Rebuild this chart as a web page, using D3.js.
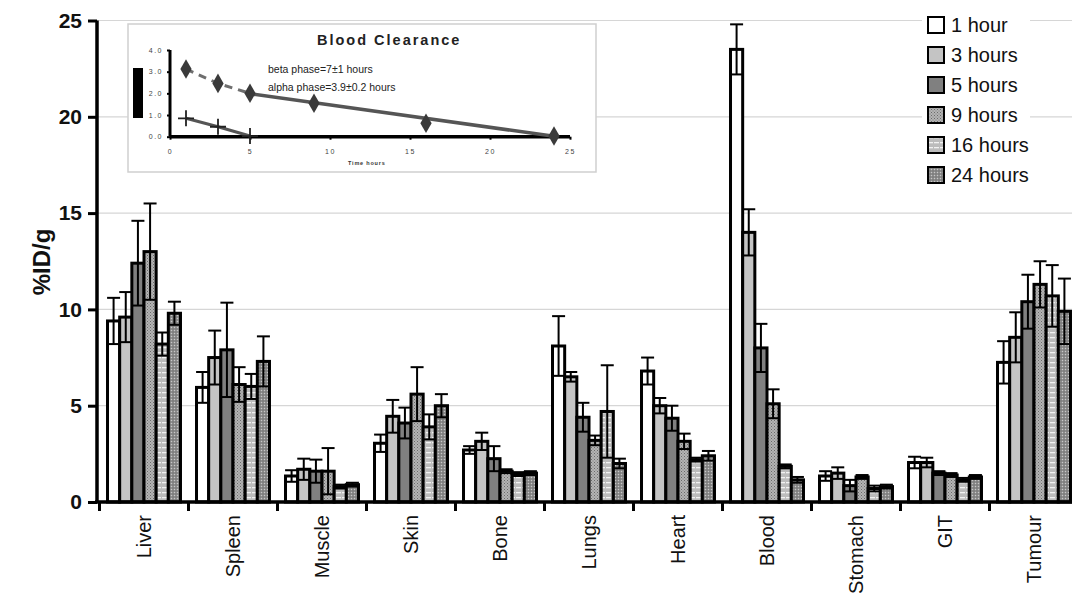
<!DOCTYPE html>
<html><head><meta charset="utf-8">
<script src="https://cdn.jsdelivr.net/npm/d3@7"></script>
<style>html,body{margin:0;padding:0;background:#fff;}svg{display:block;font-family:Arial,"Liberation Sans",sans-serif;}</style>
</head><body>
<svg id="chart" width="1072" height="613"></svg>
<script>
// ---------- data ----------
const categories = ["Liver","Spleen","Muscle","Skin","Bone","Lungs","Heart","Blood","Stomach","GIT","Tumour"];
const seriesNames = ["1 hour","3 hours","5 hours","9 hours","16 hours","24 hours"];
const h1  = [9.4, 5.95, 1.35, 3.05, 2.7, 8.1, 6.8, 23.5, 1.35, 2.05, 7.25];
const h3  = [9.6, 7.5, 1.7, 4.45, 3.15, 6.5, 5.0, 14.0, 1.5, 2.05, 8.55];
const h5  = [12.4, 7.9, 1.6, 4.1, 2.25, 4.4, 4.35, 8.0, 0.85, 1.5, 10.4];
const h9  = [13.0, 6.1, 1.6, 5.6, 1.6, 3.2, 3.15, 5.1, 1.3, 1.4, 11.3];
const h16 = [8.2, 6.0, 0.8, 3.9, 1.45, 4.7, 2.2, 1.85, 0.7, 1.15, 10.7];
const h24 = [9.8, 7.3, 0.9, 5.0, 1.5, 2.0, 2.4, 1.15, 0.8, 1.3, 9.9];
const e1  = [1.2, 0.8, 0.3, 0.45, 0.2, 1.55, 0.7, 1.3, 0.25, 0.3, 1.1];
const e3  = [1.3, 1.4, 0.55, 0.85, 0.45, 0.25, 0.4, 1.2, 0.3, 0.25, 1.3];
const e5  = [2.2, 2.45, 0.6, 0.8, 0.65, 0.75, 0.65, 1.25, 0.3, 0.1, 1.4];
const e9  = [2.5, 0.9, 1.2, 1.4, 0.1, 0.25, 0.4, 0.75, 0.1, 0.1, 1.2];
const e16 = [0.6, 0.65, 0.1, 0.65, 0.1, 2.4, 0.1, 0.1, 0.15, 0.1, 1.6];
const e24 = [0.6, 1.3, 0.1, 0.6, 0.1, 0.25, 0.25, 0.15, 0.1, 0.1, 1.7];
const yTicks = [0, 5, 10, 15, 20, 25];

// inset data
const insetTitle = "Blood Clearance";
const clearTime  = [1, 3, 5, 9, 16, 24];
const clearValue = [3.12, 2.46, 2.0, 1.54, 0.62, 0.03];
const alphaTime  = [1, 3, 5];
const alphaValue = [0.85, 0.46, 0.03];
const betaFitTime  = [5, 24];
const betaFitValue = [1.98, 0.02];
const insetXTicks = [0, 5, 10, 15, 20, 25];
const insetYTicks = [0, 1, 2, 3, 4];
const betaText  = "beta phase=7\u00B11 hours";
const alphaText = "alpha phase=3.9\u00B10.2 hours";

// ---------- build ----------
const values = [h1, h3, h5, h9, h16, h24];
const errors = [e1, e3, e5, e9, e16, e24];
const fills = ["#ffffff", "#c4c4c4", "#808080", "url(#p9)", "url(#p16)", "url(#p24)"];

const svg = d3.select("#chart");
const defs = svg.append("defs");
let p = defs.append("pattern").attr("id","p9").attr("patternUnits","userSpaceOnUse").attr("width",3).attr("height",3);
p.append("rect").attr("width",3).attr("height",3).attr("fill","#b4b4b4");
p.append("rect").attr("x",0).attr("y",0).attr("width",1).attr("height",1).attr("fill","#6a6a6a");
p.append("rect").attr("x",1.5).attr("y",1.5).attr("width",1).attr("height",1).attr("fill","#7a7a7a");
p = defs.append("pattern").attr("id","p16").attr("patternUnits","userSpaceOnUse").attr("width",6).attr("height",5);
p.append("rect").attr("width",6).attr("height",5).attr("fill","#bcbcbc");
p.append("rect").attr("x",0).attr("y",2).attr("width",5).attr("height",1.3).attr("fill","#f2f2f2");
p = defs.append("pattern").attr("id","p24").attr("patternUnits","userSpaceOnUse").attr("width",3).attr("height",3);
p.append("rect").attr("width",3).attr("height",3).attr("fill","#8e8e8e");
p.append("rect").attr("x",0).attr("y",0).attr("width",1).attr("height",1).attr("fill","#c8c8c8");
p.append("rect").attr("x",1.5).attr("y",1.5).attr("width",1).attr("height",1).attr("fill","#555");

const y = d3.scaleLinear().domain([0, 25]).range([502, 20.5]);
const x0 = d3.scaleBand().domain(categories).range([99.5, 1078.5]).paddingInner(0.18).paddingOuter(0.09);
const x1 = d3.scaleBand().domain(seriesNames).range([0, x0.bandwidth()]);

// gridlines
svg.append("g").selectAll("line").data(yTicks.filter(d => d > 0)).join("line")
  .attr("x1", 97).attr("x2", 1072).attr("y1", d => y(d)).attr("y2", d => y(d))
  .attr("stroke", "#d6d6d6").attr("stroke-width", 1.2);

// bars
const gBars = svg.append("g");
seriesNames.forEach((s, si) => {
  gBars.append("g").selectAll("rect").data(categories).join("rect")
    .attr("x", c => x0(c) + x1(s))
    .attr("y", (c, i) => y(values[si][i]))
    .attr("width", x1.bandwidth())
    .attr("height", (c, i) => y(0) - y(values[si][i]))
    .attr("fill", fills[si]).attr("stroke", "#000").attr("stroke-width", 3);
});
// error bars
const gErr = svg.append("g").attr("stroke", "#000").attr("stroke-width", 2);
seriesNames.forEach((s, si) => {
  categories.forEach((c, i) => {
    const cx = x0(c) + x1(s) + x1.bandwidth() / 2;
    const v = values[si][i], e = errors[si][i];
    const top = y(v + e), bot = y(Math.max(0, v - e));
    gErr.append("line").attr("x1", cx).attr("x2", cx).attr("y1", top).attr("y2", bot);
    gErr.append("line").attr("x1", cx - 6.5).attr("x2", cx + 6.5).attr("y1", top).attr("y2", top);
    gErr.append("line").attr("x1", cx - 6.5).attr("x2", cx + 6.5).attr("y1", bot).attr("y2", bot);
  });
});

// y axis
const yAxis = svg.append("g").attr("transform", "translate(97,0)")
  .call(d3.axisLeft(y).tickValues(yTicks).tickSize(9).tickPadding(6));
yAxis.select(".domain").attr("stroke-width", 3.5).attr("d", `M0,${y(25)}V${y(0)}`);
yAxis.selectAll(".tick line").attr("stroke-width", 3);
yAxis.selectAll(".tick text").attr("font-size", 21).attr("font-weight", "bold").attr("fill", "#111")
  .attr("font-family", "Arial, 'Liberation Sans', sans-serif");

svg.append("text").attr("transform", "translate(50,262) rotate(-90)")
  .attr("text-anchor", "middle").attr("font-size", 24).attr("font-weight", "bold").attr("fill", "#111")
  .text("%ID/g");

// x axis
const xAxis = svg.append("g").attr("transform", `translate(0,${y(0)})`);
xAxis.append("line").attr("x1", 95).attr("x2", 1072).attr("stroke", "#000").attr("stroke-width", 3.5);
const boundaries = categories.map(c => x0(c) - x0.step() * x0.paddingInner() / 2);
xAxis.selectAll(".xt").data(boundaries).join("line").attr("class", "xt")
  .attr("x1", d => d).attr("x2", d => d).attr("y1", 0).attr("y2", 9)
  .attr("stroke", "#000").attr("stroke-width", 3);
xAxis.selectAll(".xl").data(categories).join("text").attr("class", "xl")
  .attr("transform", c => `translate(${x0(c) + x0.bandwidth() / 2 + 7},13) rotate(-90)`)
  .attr("text-anchor", "end").attr("font-size", 20).attr("fill", "#111")
  .text(c => c);

// legend
const lg = svg.append("g").attr("transform", "translate(922,8)");
lg.append("rect").attr("x", 0).attr("y", 0).attr("width", 108).attr("height", 182).attr("fill", "#fff");
seriesNames.forEach((s, si) => {
  const row = lg.append("g").attr("transform", `translate(6,${17 + si * 30})`);
  row.append("rect").attr("x", 0).attr("y", -8).attr("width", 16).attr("height", 16)
    .attr("fill", fills[si]).attr("stroke", "#000").attr("stroke-width", 2);
  row.append("text").attr("x", 23).attr("y", 7).attr("font-size", 20).attr("fill", "#111").text(s);
});

// ---------- inset ----------
const ins = svg.append("g");
ins.append("rect").attr("x", 128).attr("y", 24).attr("width", 468).attr("height", 148)
  .attr("fill", "#fff").attr("stroke", "#cfcfcf").attr("stroke-width", 1.5);
ins.append("text").attr("x", 317).attr("y", 45).attr("font-size", 14.5).attr("font-weight", "bold")
  .attr("letter-spacing", 2).attr("fill", "#222").text(insetTitle);
const ix = d3.scaleLinear().domain([0, 25]).range([170, 570]);
const iy = d3.scaleLinear().domain([0, 4]).range([136.7, 50]);
const iyAxis = ins.append("g").attr("transform", "translate(170,0)")
  .call(d3.axisLeft(iy).tickValues(insetYTicks).tickFormat(d3.format(".1f")).tickSize(3).tickPadding(4));
iyAxis.select(".domain").attr("stroke-width", 3).attr("d", `M0,${iy(4)}V${iy(0)}`);
iyAxis.selectAll(".tick line").attr("stroke-width", 2);
iyAxis.selectAll(".tick text").attr("font-size", 7).attr("letter-spacing", 1.5).attr("fill", "#444");
const ixAxis = ins.append("g").attr("transform", `translate(0,${iy(0)})`)
  .call(d3.axisBottom(ix).tickValues(insetXTicks).tickSize(3).tickPadding(9));
ixAxis.select(".domain").attr("stroke-width", 3.5).attr("d", `M${ix(0)},0H${ix(25)}`);
ixAxis.selectAll(".tick line").attr("stroke-width", 2);
ixAxis.selectAll(".tick text").attr("font-size", 7).attr("letter-spacing", 1.5).attr("fill", "#444");
ins.append("text").attr("x", 348).attr("y", 165).attr("font-size", 5.5).attr("font-weight", "bold")
  .attr("letter-spacing", 0.8).attr("fill", "#333").text("Time hours");
ins.append("rect").attr("x", 133).attr("y", 68).attr("width", 10).attr("height", 50).attr("fill", "#000");

const line = d3.line().x(d => ix(d[0])).y(d => iy(d[1]));
const dashPts = clearTime.map((t, i) => [t, clearValue[i]]).filter(d => d[0] <= 5);
ins.append("path").attr("d", line(dashPts)).attr("fill", "none").attr("stroke", "#6e6e6e")
  .attr("stroke-width", 3).attr("stroke-dasharray", "8,6");
ins.append("path").attr("d", line(betaFitTime.map((t, i) => [t, betaFitValue[i]])))
  .attr("fill", "none").attr("stroke", "#555").attr("stroke-width", 3.5);
ins.append("path").attr("d", line(alphaTime.map((t, i) => [t, alphaValue[i]])))
  .attr("fill", "none").attr("stroke", "#555").attr("stroke-width", 3);
ins.selectAll(".dm").data(clearTime.map((t, i) => [t, clearValue[i]])).join("path").attr("class", "dm")
  .attr("transform", d => `translate(${ix(d[0])},${iy(d[1])})`)
  .attr("d", d3.symbol(d3.symbolDiamond, 110)()).attr("fill", "#3a3a3a");
ins.selectAll(".cr").data(alphaTime.map((t, i) => [t, alphaValue[i]])).join("path").attr("class", "cr")
  .attr("transform", d => `translate(${ix(d[0])},${iy(d[1])})`)
  .attr("d", "M-8,0H8M0,-8V8").attr("stroke", "#222").attr("stroke-width", 1.8).attr("fill", "none");
ins.append("text").attr("x", 268).attr("y", 73).attr("font-size", 10.5).attr("fill", "#222").text(betaText);
ins.append("text").attr("x", 268).attr("y", 91).attr("font-size", 10.5).attr("fill", "#222").text(alphaText);
</script>
</body></html>
